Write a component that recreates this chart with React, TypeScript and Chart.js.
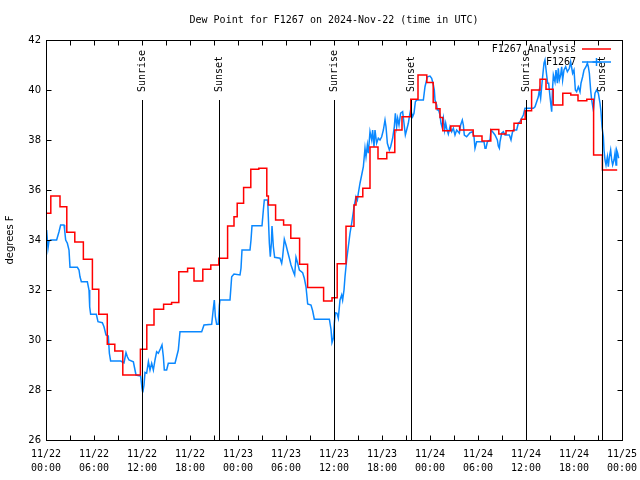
import React, { useEffect, useRef } from 'react';
import { Chart, registerables } from 'chart.js';

Chart.register(...registerables);

const titleText = 'Dew Point for F1267 on 2024-Nov-22 (time in UTC)';
const yAxisTitle = 'degrees F';
const analysisLabel = 'F1267 Analysis';
const obsLabel = 'F1267';

const xTickLabels = [
  ['11/22', '00:00'], ['11/22', '06:00'], ['11/22', '12:00'], ['11/22', '18:00'],
  ['11/23', '00:00'], ['11/23', '06:00'], ['11/23', '12:00'], ['11/23', '18:00'],
  ['11/24', '00:00'], ['11/24', '06:00'], ['11/24', '12:00'], ['11/24', '18:00'],
  ['11/25', '00:00'],
];

const eventHours = [12, 21.65, 36, 45.65, 60, 69.5];
const eventLabels = ['Sunrise', 'Sunset', 'Sunrise', 'Sunset', 'Sunrise', 'Sunset'];

// hours since 11/22 00:00 UTC
const analysisHours = [
  0, 0.6, 1.75, 2.6, 3.6, 4.67, 5.8, 6.6, 7.66, 8.6, 9.6, 11.8, 12.6, 13.5, 14.7, 15.7,
  16.6, 17.7, 18.5, 19.6, 20.6, 21.6, 22.7, 23.5, 23.9, 24.7, 25.6, 26.6, 27.6, 27.8,
  28.7, 29.7, 30.6, 31.7, 32.7, 34.7, 35.75, 36.4, 37.5, 38.5, 38.75, 39.6, 40.5, 41.5,
  42.6, 43.6, 44.5, 45.6, 46.5, 47.6, 48.4, 48.75, 49.25, 49.6, 50.6, 51.7, 53.4, 54.5,
  55.6, 56.6, 57.5, 58.5, 59.4, 59.9, 60.7, 61.75, 62.5, 63.4, 64.6, 65.6, 66.5, 67.6,
  68.45, 69.55, 71.4,
];
const analysisValues = [
  35.07, 35.76, 35.33, 34.31, 33.92, 33.23, 32.03, 31.03, 29.83, 29.56, 28.6, 29.63, 30.6, 31.23, 31.43, 31.5,
  32.73, 32.87, 32.36, 32.83, 33.0, 33.27, 34.56, 34.93, 35.47, 36.1, 36.83, 36.87, 35.76, 35.4,
  34.8, 34.6, 34.07, 33.03, 32.1, 31.56, 31.69, 33.05, 34.55, 35.4, 35.73, 36.07, 37.72, 37.25,
  37.5, 38.4, 38.93, 39.63, 40.6, 40.3, 39.5, 39.25, 38.9, 38.37, 38.56, 38.4, 38.16, 37.96,
  38.42, 38.24, 38.37, 38.67, 38.83, 39.17, 40.0, 40.43, 40.03, 39.4, 39.87, 39.8, 39.57, 39.63,
  37.4, 36.8, 36.8,
];

const obsHours = [
  0.08, 0.25, 0.375, 0.58, 1.33, 1.625, 1.83, 2.25, 2.33, 2.46, 2.67, 2.875, 3.0, 3.92, 4.125, 4.25,
  4.42, 5.17, 5.375, 5.46, 5.58, 6.29, 6.5, 7.04, 7.25, 7.5, 7.79, 7.92, 8.08, 9.33, 9.75, 10.0,
  10.17, 10.375, 10.92, 11.08, 11.25, 11.83, 12.0, 12.1, 12.25, 12.375, 12.58, 12.8, 13.0, 13.21, 13.42, 13.625,
  13.83, 14.04, 14.33, 14.5, 14.67, 14.79, 15.08, 15.29, 16.13, 16.33, 16.54, 16.75, 19.46, 19.75, 20.71, 20.92,
  21.04, 21.17, 21.33, 21.54, 21.67, 21.75, 23.0, 23.21, 23.5, 24.25, 24.375, 24.5, 25.5, 25.625, 25.75, 27.0,
  27.17, 27.29, 27.71, 27.79, 27.92, 28.04, 28.17, 28.25, 28.42, 28.58, 29.25, 29.46, 29.58, 29.79, 30.0, 30.21,
  30.42, 30.625, 30.92, 31.08, 31.25, 31.46, 31.67, 32.08, 32.29, 32.5, 32.71, 33.125, 33.33, 33.54, 35.42, 35.625,
  35.75, 35.92, 36.04, 36.17, 36.375, 36.54, 36.75, 36.96, 37.08, 37.25, 37.375, 37.58, 37.79, 38.0, 38.21, 38.42,
  38.5, 38.75, 38.92, 39.04, 39.25, 39.46, 39.67, 39.875, 40.0, 40.17, 40.29, 40.5, 40.71, 40.83, 41.0, 41.125,
  41.33, 41.54, 41.75, 41.96, 42.17, 42.375, 42.5, 42.67, 42.92, 43.08, 43.33, 43.54, 43.67, 43.83, 43.96, 44.125,
  44.33, 44.58, 44.75, 44.92, 45.08, 45.29, 45.42, 45.58, 45.83, 46.0, 46.17, 46.33, 47.17, 47.375, 47.67, 48.0,
  48.21, 48.42, 48.54, 48.625, 48.83, 48.92, 49.08, 49.25, 49.375, 49.5, 49.67, 49.83, 49.96, 50.08, 50.29, 50.5,
  50.71, 50.92, 51.125, 51.33, 51.67, 51.83, 52.04, 52.17, 52.29, 52.58, 53.0, 53.33, 53.5, 53.625, 53.83, 54.75,
  54.875, 55.0, 55.17, 55.5, 55.625, 55.83, 56.125, 56.42, 56.54, 56.67, 56.75, 56.96, 57.17, 57.375, 57.92, 58.125,
  58.29, 58.42, 58.83, 59.04, 59.25, 59.46, 59.67, 59.875, 60.17, 60.92, 61.125, 61.54, 61.67, 61.83, 61.96, 62.08,
  62.25, 62.375, 62.58, 62.71, 62.83, 63.0, 63.21, 63.33, 63.42, 63.625, 63.75, 63.92, 64.04, 64.17, 64.33, 64.46,
  64.58, 64.75, 64.96, 65.17, 65.42, 65.58, 65.83, 66.0, 66.17, 66.33, 66.54, 66.75, 66.875, 67.08, 67.25, 67.5,
  67.67, 67.79, 67.92, 68.08, 68.21, 68.42, 68.625, 68.83, 69.04, 69.25, 69.375, 69.5, 69.67, 69.75, 69.875, 70.0,
  70.17, 70.29, 70.42, 70.58, 70.71, 70.83, 71.0, 71.125, 71.25, 71.33, 71.46, 71.58,
];
const obsValues = [
  34.4, 33.67, 33.96, 34.0, 34.0, 34.33, 34.6, 34.6, 34.4, 34.0, 33.87, 33.6, 32.91, 32.91, 32.8, 32.53,
  32.33, 32.33, 32.0, 31.33, 31.03, 31.03, 30.73, 30.69, 30.53, 30.2, 30.16, 29.47, 29.16, 29.16, 29.09, 29.49,
  29.33, 29.2, 29.13, 28.87, 28.6, 28.56, 28.07, 27.9, 28.2, 28.7, 28.67, 29.13, 28.8, 29.07, 28.8, 29.2,
  29.53, 29.47, 29.67, 29.8, 29.33, 28.8, 28.8, 29.07, 29.07, 29.33, 29.6, 30.33, 30.33, 30.6, 30.63, 31.27,
  31.6, 30.93, 30.63, 30.63, 31.4, 31.6, 31.6, 32.53, 32.64, 32.6, 32.87, 33.6, 33.6, 34.0, 34.57, 34.57,
  35.2, 35.6, 35.6, 34.93, 33.87, 33.33, 33.87, 34.56, 33.73, 33.31, 33.27, 33.07, 33.33, 34.03, 33.8, 33.53,
  33.27, 33.0, 32.73, 32.6, 33.31, 33.07, 32.8, 32.69, 32.47, 32.13, 31.44, 31.4, 31.17, 30.83, 30.83, 30.43,
  29.9, 30.07, 30.67, 31.09, 31.07, 30.87, 31.6, 31.8, 31.6, 32.0, 32.53, 33.2, 33.73, 34.27, 34.67, 35.13,
  35.33, 35.73, 35.6, 35.87, 36.27, 36.6, 36.93, 37.67, 37.33, 37.8, 37.47, 38.33, 38.0, 38.4, 37.73, 38.4,
  37.87, 38.07, 38.0, 38.13, 38.4, 38.8, 38.53, 37.87, 37.6, 37.73, 38.07, 38.53, 39.07, 38.53, 38.87, 38.6,
  39.07, 39.13, 38.67, 38.2, 38.4, 38.67, 38.93, 39.2, 38.93, 39.07, 39.53, 39.6, 39.6, 40.13, 40.53, 40.56,
  40.47, 40.2, 40.0, 39.6, 39.4, 39.2, 39.2, 39.0, 38.67, 38.53, 38.87, 38.4, 38.67, 38.47, 38.24, 38.53,
  38.33, 38.47, 38.2, 38.4, 38.27, 38.6, 38.8, 38.6, 38.2, 38.13, 38.29, 38.33, 38.13, 37.67, 37.93, 37.93,
  37.67, 37.67, 37.93, 38.0, 38.4, 38.33, 38.2, 38.0, 37.76, 37.67, 37.93, 38.27, 38.33, 38.2, 38.2, 38.0,
  38.29, 38.4, 38.4, 38.67, 38.73, 38.87, 39.0, 39.27, 39.27, 39.27, 39.33, 39.73, 40.0, 39.67, 40.13, 40.53,
  41.07, 41.2, 40.6, 40.27, 40.27, 39.73, 39.13, 40.13, 40.6, 40.33, 40.8, 40.27, 40.87, 40.4, 40.6, 40.93,
  40.4, 40.8, 40.93, 40.73, 40.87, 41.13, 40.67, 40.8, 40.0, 39.93, 40.13, 39.93, 40.27, 40.53, 40.8, 40.93,
  41.07, 40.93, 40.67, 40.0, 39.6, 39.2, 39.87, 40.0, 39.87, 39.47, 39.13, 38.53, 38.13, 37.6, 37.2, 37.0,
  37.33, 36.93, 37.33, 37.6, 37.2, 37.0, 37.2, 37.47, 37.0, 37.6, 37.47, 37.27,
];

const RED = '#ff0000';
const BLUE = '#0a88ff';
const MONO = '"DejaVu Sans Mono", monospace';
const SANS = '"DejaVu Sans", sans-serif';

const overlayPlugin = {
  id: 'gnuplotOverlay',
  afterDatasetsDraw(chart: any) {
    const { ctx, chartArea: a, scales } = chart;
    const x = scales.x;
    const y = scales.y;
    const L = Math.round(a.left) + 0.5;
    const R = Math.round(a.right) + 0.5;
    const T = Math.round(a.top) + 0.5;
    const B = Math.round(a.bottom) + 0.5;
    ctx.save();
    ctx.strokeStyle = '#000';
    ctx.lineWidth = 1;
    const seg = (x1: number, y1: number, x2: number, y2: number) => {
      ctx.beginPath();
      ctx.moveTo(x1, y1);
      ctx.lineTo(x2, y2);
      ctx.stroke();
    };
    // frame
    ctx.strokeRect(L, T, R - L, B - T);
    // x ticks (inward, mirrored) every 3 hours
    for (let h = x.min; h <= x.max; h += 3) {
      const px = Math.round(x.getPixelForValue(h)) + 0.5;
      seg(px, B, px, B - 5);
      seg(px, T, px, T + 5);
    }
    // y ticks (inward, mirrored)
    for (let v = y.min; v <= y.max; v += 2) {
      const py = Math.round(y.getPixelForValue(v)) + 0.5;
      seg(L, py, L + 5, py);
      seg(R, py, R - 5, py);
    }
    // sunrise / sunset markers
    const h = a.bottom - a.top;
    const lineTop = a.bottom - 0.85 * h;
    const labelY = a.bottom - 0.87 * h;
    ctx.font = `10px ${MONO}`;
    ctx.fillStyle = '#000';
    eventHours.forEach((eh, i) => {
      const px = Math.round(x.getPixelForValue(eh)) + 0.5;
      seg(px, B, px, lineTop);
      ctx.save();
      ctx.translate(px, labelY);
      ctx.rotate(-Math.PI / 2);
      ctx.textAlign = 'left';
      ctx.textBaseline = 'middle';
      ctx.fillText(eventLabels[i], 0, 0);
      ctx.restore();
    });
    // legend
    const legendTextRight = a.right - 46;
    const sampleL = a.right - 40;
    const sampleR = a.right - 11;
    const rows = [
      { label: analysisLabel, color: RED, y: a.top + 9, marker: false },
      { label: obsLabel, color: BLUE, y: a.top + 22, marker: true },
    ];
    ctx.font = `10px ${MONO}`;
    ctx.textAlign = 'right';
    ctx.textBaseline = 'middle';
    rows.forEach((r) => {
      ctx.fillStyle = '#000';
      ctx.fillText(r.label, legendTextRight, r.y);
      ctx.strokeStyle = r.color;
      ctx.lineWidth = 1.5;
      seg(sampleL, r.y, sampleR, r.y);
      if (r.marker) {
        const cx = (sampleL + sampleR) / 2;
        seg(cx - 4, r.y, cx + 4, r.y);
        seg(cx, r.y - 4, cx, r.y + 4);
      }
    });
    // title
    ctx.fillStyle = '#000';
    ctx.textAlign = 'center';
    ctx.textBaseline = 'middle';
    ctx.font = `10px ${MONO}`;
    ctx.fillText(titleText, (a.left + a.right) / 2, 20);
    ctx.restore();
  },
};

export default function App() {
  const canvasRef = useRef<HTMLCanvasElement | null>(null);

  useEffect(() => {
    const canvas = canvasRef.current;
    if (!canvas) return;
    const analysisData = analysisHours.map((hh, i) => ({ x: hh, y: analysisValues[i] }));
    const obsData = obsHours.map((hh, i) => ({ x: hh, y: obsValues[i] }));
    const chart = new Chart(canvas, {
      type: 'line',
      data: {
        datasets: [
          {
            label: analysisLabel,
            data: analysisData,
            borderColor: RED,
            backgroundColor: RED,
            borderWidth: 1.5,
            pointRadius: 0,
            stepped: 'before',
            fill: false,
          },
          {
            label: obsLabel,
            data: obsData,
            borderColor: BLUE,
            backgroundColor: BLUE,
            borderWidth: 1.5,
            pointRadius: 0,
            tension: 0,
            fill: false,
          },
        ],
      },
      options: {
        animation: false,
        responsive: false,
        devicePixelRatio: 1,
        layout: { padding: { top: 40, right: 18, left: 0, bottom: 0 } },
        plugins: {
          legend: { display: false },
          title: { display: false },
          tooltip: { enabled: false },
        },
        scales: {
          x: {
            type: 'linear',
            min: 0,
            max: 72,
            grid: { display: false, drawTicks: false },
            border: { display: false },
            afterFit: (s: any) => {
              s.height = 40;
              s.paddingLeft = 0;
              s.paddingRight = 0;
            },
            ticks: {
              stepSize: 6,
              autoSkip: false,
              maxRotation: 0,
              padding: 7,
              color: '#000',
              font: { family: MONO, size: 10, lineHeight: 1.4 },
              callback: (v: any) => xTickLabels[Math.round(Number(v) / 6)] as any,
            },
          },
          y: {
            type: 'linear',
            min: 26,
            max: 42,
            grid: { display: false, drawTicks: false },
            border: { display: false },
            afterFit: (s: any) => {
              s.width = 46;
              s.paddingTop = 0;
              s.paddingBottom = 0;
            },
            ticks: {
              stepSize: 2,
              padding: 5,
              color: '#000',
              font: { family: SANS, size: 10 },
            },
            title: {
              display: true,
              text: yAxisTitle,
              color: '#000',
              font: { family: SANS, size: 10 },
              padding: { top: 4, bottom: 0 },
            },
          },
        },
      },
      plugins: [overlayPlugin],
    } as any);
    return () => chart.destroy();
  }, []);

  return (
    <div style={{ position: 'fixed', left: 0, top: 0, width: 640, height: 480, background: '#fff' }}>
      <canvas ref={canvasRef} width={640} height={480} style={{ display: 'block' }} />
    </div>
  );
}
